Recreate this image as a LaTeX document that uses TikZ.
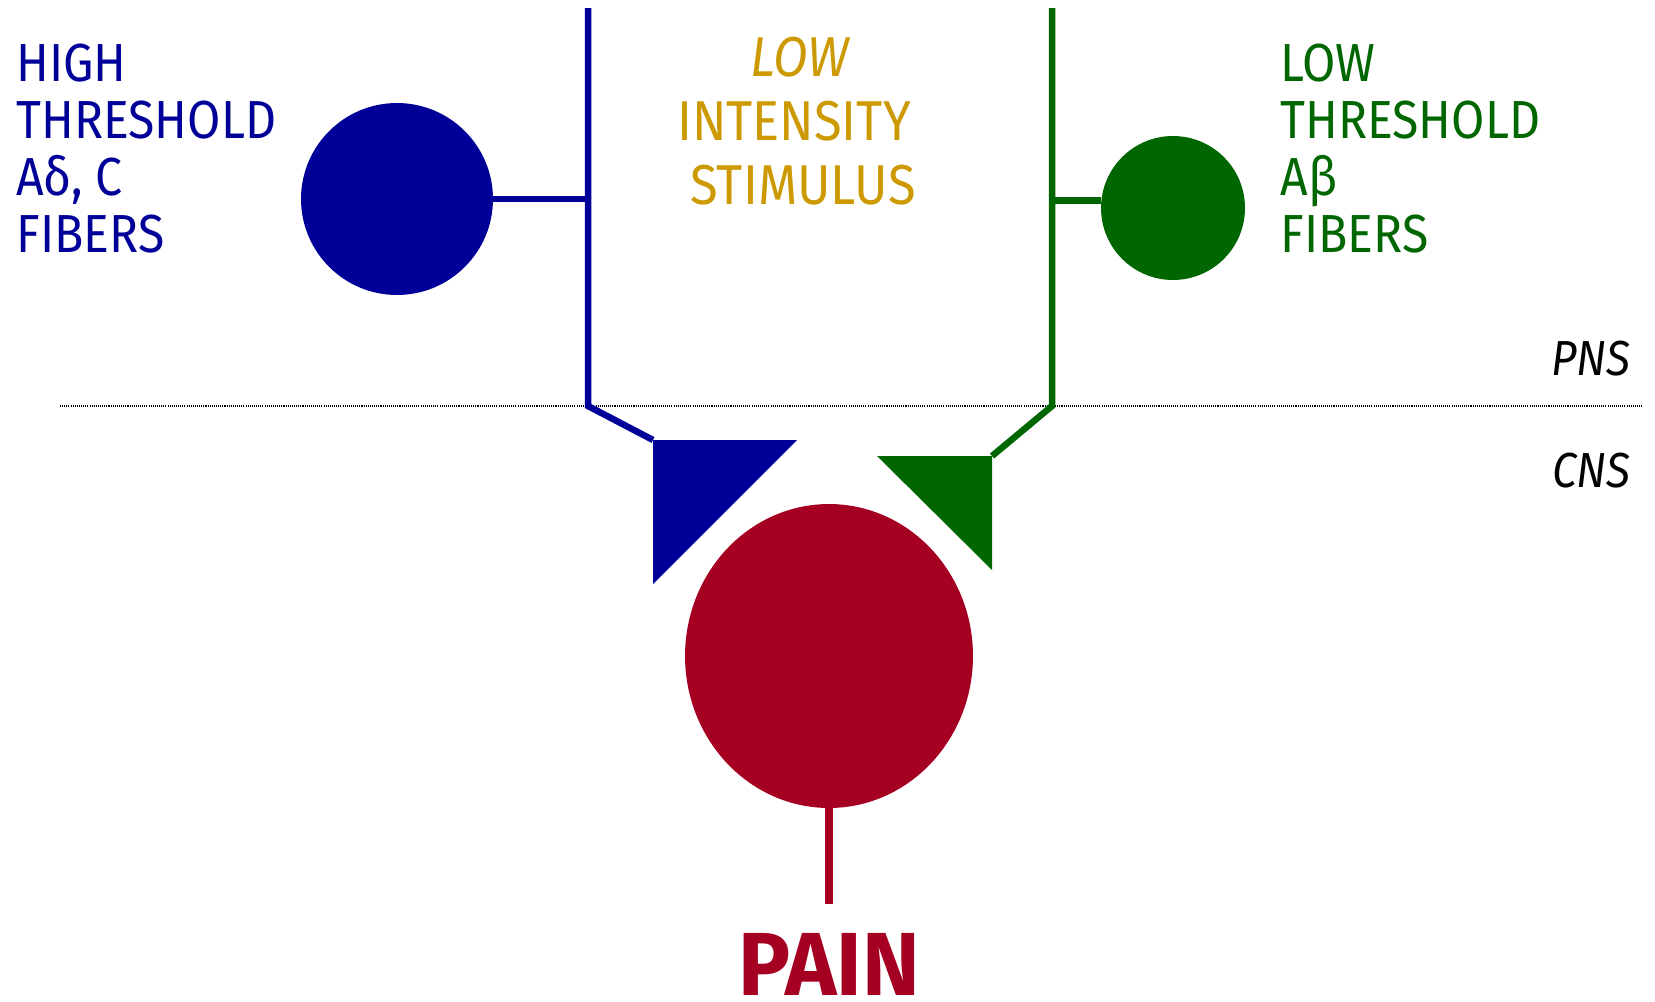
\documentclass[tikz,border=0pt]{standalone}
\usepackage{fontspec}
\setmainfont{Fira Sans}[FakeStretch=0.9]
\newfontfamily\painfont{Fira Sans}[FakeStretch=0.97]
\usetikzlibrary{shapes.geometric, positioning}
\definecolor{highcolor}{RGB}{0, 0, 153}
\definecolor{lowcolor}{RGB}{0, 102, 0}
\definecolor{stimcolor}{RGB}{204, 153, 0}
\definecolor{paincolor}{RGB}{165, 0, 33}

\begin{document}
\begin{tikzpicture}[
    x=0.02cm, y=-0.02cm,
    txt/.style={inner sep=0, font=\fontsize{30.5}{32}\selectfont},
    fiber/.style={line width=3.7pt},
    cell/.style={circle, inner sep=0}
]
\useasboundingbox (0,0) rectangle (1655,1001);

% PNS / CNS boundary
\coordinate (bl) at (60,406);
\coordinate (br) at (1642,406);
\draw[line width=0.6pt, dash pattern=on 0.6pt off 0.6pt] (bl) -- (br);
\node[txt, anchor=base east, font=\fontsize{28}{30}\selectfont\itshape] (pns) at (1631,375) {PNS};
\node[txt, anchor=base east, font=\fontsize{28}{30}\selectfont\itshape] (cns) at (1631,487) {CNS};

% High threshold fiber
\node[cell, fill=highcolor, minimum size=3.84cm] (hcell) at (397,199) {};
\coordinate (htop) at (588,8);
\coordinate (hbend) at (588,406);
\coordinate (hsyn) at (653,440);
\draw[fiber, highcolor] (htop) -- (hbend) -- (hsyn);
\draw[fiber, highcolor] (hcell.east) -- (hcell.east -| htop);
\fill[highcolor] (hsyn) -- (797,440) -- (653,584) -- cycle;
\foreach \t [count=\i] in {HIGH, THRESHOLD, {Aδ, C}, FIBERS}
    \node[txt, anchor=base west, text=highcolor] (hl\i) at (16,{81+57.3*(\i-1)}) {\t};

% Low threshold fiber
\node[cell, fill=lowcolor, minimum size=2.88cm] (lcell) at (1173,208) {};
\coordinate (ltop) at (1052,8);
\coordinate (lbend) at (1052,406);
\coordinate (lsyn) at (992,456);
\draw[fiber, lowcolor] (ltop) -- (lbend) -- (lsyn);
\draw[fiber, lowcolor] (lcell.174) -- (lcell.174 -| ltop);
\fill[lowcolor] (877,456) -- (lsyn) -- (992,570) -- cycle;
\foreach \t [count=\i] in {LOW, THRESHOLD, Aβ, FIBERS}
    \node[txt, anchor=base west, text=lowcolor] (ll\i) at (1280,{81+57.3*(\i-1)}) {\t};

% Stimulus
\node[txt, anchor=base, text=stimcolor, font=\fontsize{32}{34}\selectfont\itshape] (s1) at (800,76) {LOW};
\node[txt, anchor=base, text=stimcolor, font=\fontsize{32}{34}\selectfont] (s2) at (794,140) {INTENSITY};
\node[txt, anchor=base, text=stimcolor, font=\fontsize{32}{34}\selectfont] (s3) at (803,204) {STIMULUS};

% Pain neuron
\node[ellipse, fill=paincolor, inner sep=0, minimum width=5.76cm, minimum height=6.08cm] (pcell) at (829,656) {};
\coordinate (pend) at (829,904);
\draw[line width=4.4pt, paincolor] (pcell.south) -- (pend);
\node[txt, anchor=base, text=paincolor, font=\fontsize{51}{54}\painfont\bfseries] (pain) at (829,995) {PAIN};

\end{tikzpicture}
\end{document}
